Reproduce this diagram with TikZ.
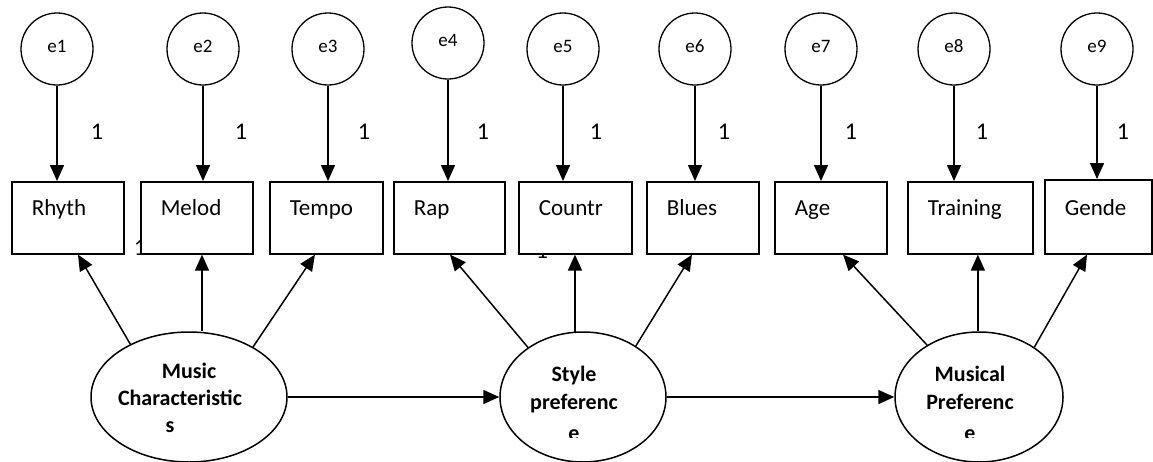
\documentclass[tikz,border=0pt]{standalone}
\usepackage{fontspec}
\setmainfont{Carlito}
\usetikzlibrary{arrows.meta,calc,shapes.geometric}
\begin{document}
\begin{tikzpicture}[x=1pt,y=-1pt,
 err/.style={circle,draw,line width=1.3pt,minimum size=72pt,inner sep=0pt,font=\fontsize{19}{22}\selectfont,text depth=6pt},
 obs/.style={rectangle,draw,fill=white,line width=1.6pt,anchor=north west,inner xsep=20pt,inner ysep=0pt,text height=34pt,text depth=38pt,align=left,font=\fontsize{23}{27}\selectfont},
 lat/.style={ellipse,draw,line width=1.5pt,inner sep=0pt},
 arr/.style={line width=1.5pt,-{Triangle[length=16pt,width=14pt]}},
 one/.style={anchor=base,font=\fontsize{24}{28}\selectfont,inner sep=0pt},
 ltxt/.style={anchor=base,font=\bfseries\fontsize{22}{26}\selectfont,inner sep=0pt}]
\useasboundingbox (0,0) rectangle (1153,461);
\fill[white] (0,0) rectangle (1153,461);

% partially hidden loading labels (behind boxes)
\node[one] (h1) at (140,255) {1};
\node[one] (h2) at (542,258) {1};
\node[one] (h3) at (950,255) {1};

% error terms
\node[err] (e1) at (57,49) {e1};
\node[err] (e2) at (203,49) {e2};
\node[err] (e3) at (328,49) {e3};
\node[err] (e4) at (448,43) {e4};
\node[err] (e5) at (563,49) {e5};
\node[err] (e6) at (695,49) {e6};
\node[err] (e7) at (821,49) {e7};
\node[err] (e8) at (954,49) {e8};
\node[err] (e9) at (1097,49) {e9};

% observed variables
\node[obs,text width=72pt] (rhyth) at (11,181) {Rhyth};
\node[obs,text width=72pt] (melod) at (140,181) {Melod};
\node[obs,text width=73pt] (tempo) at (269,181) {Tempo};
\node[obs,text width=71pt] (rap) at (393,181) {Rap};
\node[obs,text width=73pt] (countr) at (518,181) {Countr};
\node[obs,text width=72pt] (blues) at (646,181) {Blues};
\node[obs,text width=72pt] (age) at (774,181) {Age};
\node[obs,text width=85pt] (training) at (907,181) {Training};
\node[obs,text width=67pt,text height=36pt,text depth=38pt] (gende) at (1044,179) {Gende};

% latent variables
\node[lat,minimum width=196pt,minimum height=130pt] (mc) at (189,397) {};
\node[lat,minimum width=166pt,minimum height=130pt] (sp) at (583,397) {};
\node[lat,minimum width=168pt,minimum height=130pt] (mp) at (979,397) {};

\node[ltxt] (mc1) at (189,378) {Music};
\node[ltxt] (mc2) at (180,405) {Characteristic};
\node[ltxt] (mc3) at (170,432) {s};
\begin{scope}
\clip (450,300) rectangle (1153,437);
\node[ltxt] (sp1) at (574,381) {Style};
\node[ltxt] (sp2) at (574,409) {preferenc};
\node[ltxt] (sp3) at (574,440) {e};
\node[ltxt] (mp1) at (970,381) {Musical};
\node[ltxt] (mp2) at (970,409) {Preferenc};
\node[ltxt] (mp3) at (970,440) {e};
\end{scope}

% error arrows
\foreach \e/\b in {e1/rhyth,e2/melod,e3/tempo,e4/rap,e5/countr,e6/blues,e7/age,e8/training,e9/gende}
  \draw[arr] (\e.south) -- (\e.south |- \b.north);

% loading labels
\node[one] (l1) at (97,139) {1};
\node[one] (l2) at (241,139) {1};
\node[one] (l3) at (364,139) {1};
\node[one] (l4) at (483,139) {1};
\node[one] (l5) at (596,139) {1};
\node[one] (l6) at (724,139) {1};
\node[one] (l7) at (851,139) {1};
\node[one] (l8) at (982,139) {1};
\node[one] (l9) at (1123,139) {1};

% loadings
\coordinate (mtip) at ($(melod.south)+(5.2,0)$);
\draw[arr] (mc.138.8) -- ($(rhyth.south west)+(67,0)$);
\draw[arr] (mc.north -| mtip) -- (mtip);
\draw[arr] (mc.38.4) -- ($(tempo.south west)+(46,0)$);
\draw[arr] (sp.138.8) -- ($(rap.south west)+(57,0)$);
\draw[arr] (sp.97.9) -- (sp.97.9 |- countr.south);
\draw[arr] (sp.44.5) -- ($(blues.south west)+(46,0)$);
\draw[arr] (mp.135) -- ($(age.south west)+(69,0)$);
\draw[arr] (mp.91.8) -- (mp.91.8 |- training.south);
\draw[arr] (mp.42.8) -- ($(gende.south west)+(43,0)$);

% structural paths
\draw[arr] (mc.east) -- (sp.west);
\draw[arr] (sp.east) -- (mp.west);
\end{tikzpicture}
\end{document}
